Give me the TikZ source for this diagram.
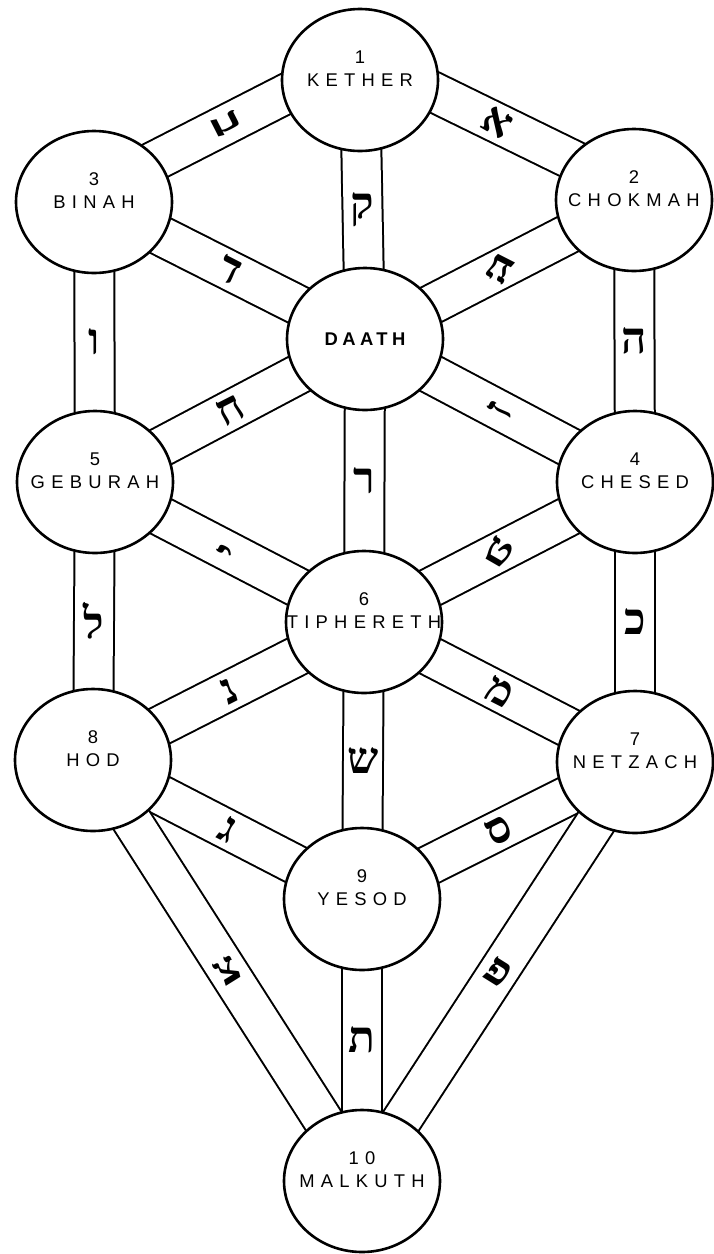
\documentclass[tikz,border=0pt]{standalone}
\usepackage{fontspec}
\setmainfont{Liberation Sans}
\newfontfamily\hebfont[Script=Hebrew]{Liberation Serif}
\usetikzlibrary{shapes.geometric,backgrounds}
\TeXXeTstate=1
\newcommand{\heb}[1]{\hebfont\bfseries\beginR #1\endR}
\newcommand{\sefirafont}{\fontsize{9.2}{11.5}\selectfont\addfontfeatures{LetterSpace=34}}
\newcommand{\sname}[2]{#1\\\makebox[0pt]{#2}\\\mbox{}}

\begin{document}
\begin{tikzpicture}[x=0.5pt,y=-0.5pt,
  sephira/.style={draw,ellipse,line width=1.3pt,fill=white,minimum width=78pt,minimum height=71pt,inner sep=0pt,align=center,font=\sefirafont},
  pathway/.style={draw,line width=1pt,double=white,double distance=19pt},
  letter/.style={font=\fontsize{22}{22}\selectfont,inner sep=0pt}
]
\useasboundingbox (0,0) rectangle (713,1254);

% the ten sephiroth and daath
\node[sephira] (kether)    at (360,80)   {\sname{1}{KETHER}};
\node[sephira] (chokmah)   at (634,200)  {\sname{2}{CHOKMAH}};
\node[sephira] (binah)     at (94,202)   {\sname{3}{BINAH}};
\node[sephira] (daath)     at (365,339)  {\bfseries\addfontfeatures{LetterSpace=24}DAATH};
\node[sephira] (chesed)    at (635,482)  {\sname{4}{CHESED}};
\node[sephira] (geburah)   at (95,482)   {\sname{5}{GEBURAH}};
\node[sephira] (tiphereth) at (364,622)  {\sname{6}{TIPHERETH}};
\node[sephira] (netzach)   at (635,762)  {\sname{7}{NETZACH}};
\node[sephira] (hod)       at (93,760)   {\sname{8}{HOD}};
\node[sephira] (yesod)     at (362,899)  {\sname{9}{YESOD}};
\node[sephira] (malkuth)   at (362,1181) {\sname{10}{MALKUTH}};

% the paths, behind the circles
\begin{scope}[on background layer]
\fill[white] (0,0) rectangle (713,1254);
\draw[pathway] ([yshift=12pt]kether.center) -- node[letter,rotate=-63]{\heb{ב}} ([yshift=5pt]binah.center);
\draw[pathway] ([yshift=12pt]kether.center) -- node[letter,rotate=-30]{\heb{א}} ([yshift=5pt]chokmah.center);
\foreach \a/\b/\l/\r in {kether/daath/ק/0, binah/daath/ד/-27, chokmah/daath/ע/153,
    binah/geburah/ו/0, chokmah/chesed/ה/0, daath/geburah/ח/27, daath/chesed/ז/63,
    daath/tiphereth/ר/0, geburah/tiphereth/י/63, chesed/tiphereth/ט/-30,
    geburah/hod/ל/0, chesed/netzach/כ/0, tiphereth/hod/נ/27, tiphereth/netzach/מ/-27,
    tiphereth/yesod/ש/0, hod/yesod/ג/-27, netzach/yesod/ס/27,
    hod/malkuth/צ/32, yesod/malkuth/ת/0, netzach/malkuth/פ/-32}
  \draw[pathway] (\a.center) -- node[letter,rotate=\r]{\heb{\l}} (\b.center);
\end{scope}
\end{tikzpicture}
\end{document}
